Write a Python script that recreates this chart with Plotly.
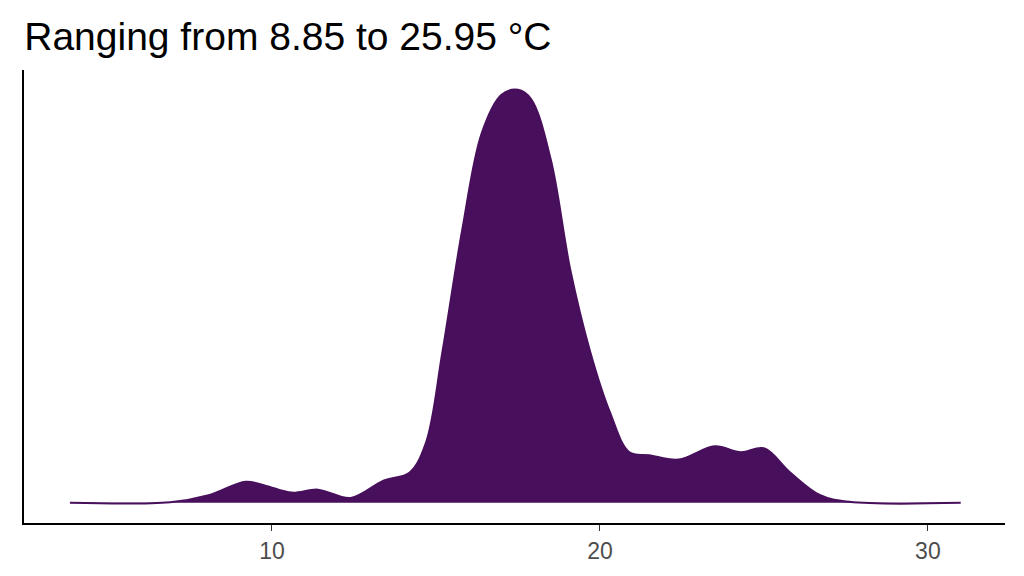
import plotly.graph_objects as go

# temperature (°C) and density estimate
temp = [3.84, 6.9, 8.1, 9.2, 9.8, 10.6, 11.4, 12.4, 13.4, 14.2, 14.7, 15.2, 15.8,
        16.4, 17.0, 17.5, 17.9, 18.5, 19.1, 19.7, 20.3, 20.9, 21.5, 22.4, 23.5,
        24.3, 25.0, 25.8, 26.7, 27.6, 31.0]
density = [0.0, 0.0002, 0.0024, 0.0064, 0.0052, 0.0031, 0.0040, 0.0015, 0.0067,
           0.0092, 0.0183, 0.0458, 0.0825, 0.112, 0.1235, 0.125, 0.1222, 0.1039,
           0.0703, 0.0458, 0.0275, 0.0153, 0.0144, 0.0131, 0.0171, 0.0153, 0.0165,
           0.0092, 0.0024, 0.0003, 0.0]
tick_vals = [10, 20, 30]

fig = go.Figure(go.Scatter(
    x=temp, y=density,
    mode="lines",
    line=dict(color="#480f5c", width=2, shape="spline", smoothing=1.0),
    fill="tozeroy",
    fillcolor="#480f5c",
    hoverinfo="skip",
))

fig.update_layout(
    width=1016, height=568,
    paper_bgcolor="white", plot_bgcolor="white",
    margin=dict(l=16, r=19, t=62, b=49),
    showlegend=False,
    title=dict(text="Ranging from 8.85 to 25.95 °C", x=0.016, xanchor="left",
               y=0.95, yanchor="middle",
               font=dict(family="Liberation Sans, Arial", size=39, color="black")),
    font=dict(family="Liberation Sans, Arial"),
)
fig.update_xaxes(range=[2.44, 32.35], tickvals=tick_vals, showgrid=False, zeroline=False,
                 showline=True, linecolor="black", linewidth=2,
                 ticks="outside", ticklen=6, tickcolor="#333333",
                 tickfont=dict(size=23, color="#4d4d4d"))
fig.update_yaxes(range=[-0.0061, 0.131], showgrid=False, zeroline=False,
                 showline=True, linecolor="black", linewidth=2,
                 showticklabels=False, ticks="")

fig.write_html("out.html")
